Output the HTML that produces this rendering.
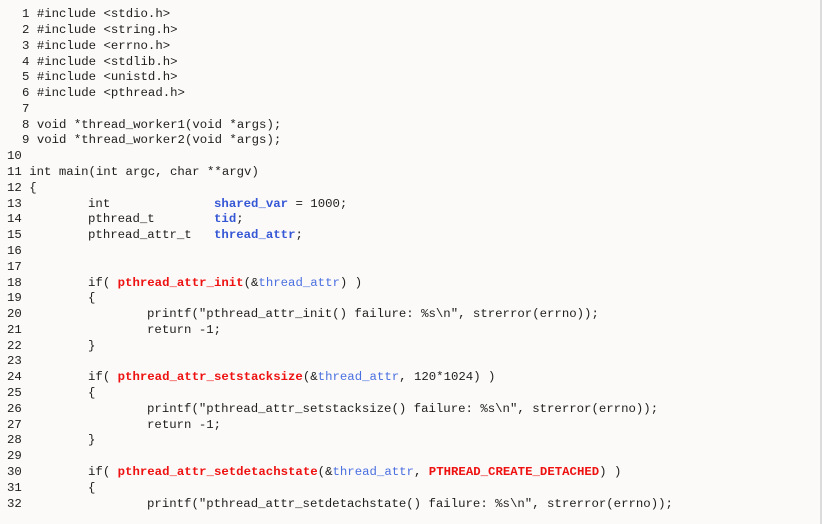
<!DOCTYPE html>
<html><head><meta charset="utf-8"><style>
html,body{margin:0;padding:0;}
body{width:824px;height:524px;background:#fff;position:relative;overflow:hidden;}
#bg{position:absolute;left:0;top:0;width:820px;height:524px;background:#fbfaf8;border-right:2px solid #dcdcdc;}
.l{position:absolute;font-family:"Liberation Mono",monospace;font-size:12.35px;line-height:16px;color:#1e1e1e;white-space:pre;}
.b{color:#3557d6;font-weight:bold;}
.v{color:#4a6fe0;}
.r{color:#ee1111;font-weight:bold;}
</style></head><body>
<div id="bg"></div>
<div class="l" style="left:22px;top:6px">1 #include &lt;stdio.h&gt;</div>
<div class="l" style="left:22px;top:22px">2 #include &lt;string.h&gt;</div>
<div class="l" style="left:22px;top:38px">3 #include &lt;errno.h&gt;</div>
<div class="l" style="left:22px;top:54px">4 #include &lt;stdlib.h&gt;</div>
<div class="l" style="left:22px;top:69px">5 #include &lt;unistd.h&gt;</div>
<div class="l" style="left:22px;top:85px">6 #include &lt;pthread.h&gt;</div>
<div class="l" style="left:22px;top:101px">7</div>
<div class="l" style="left:22px;top:117px">8 void *thread_worker1(void *args);</div>
<div class="l" style="left:22px;top:132px">9 void *thread_worker2(void *args);</div>
<div class="l" style="left:7px;top:148px">10</div>
<div class="l" style="left:7px;top:164px">11 int main(int argc, char **argv)</div>
<div class="l" style="left:7px;top:180px">12 {</div>
<div class="l" style="left:7px;top:196px">13</div><div class="l" style="left:88px;top:196px">int</div><div class="l" style="left:214px;top:196px"><span class="b">shared_var</span> = 1000;</div>
<div class="l" style="left:7px;top:211px">14</div><div class="l" style="left:88px;top:211px">pthread_t</div><div class="l" style="left:214px;top:211px"><span class="b">tid</span>;</div>
<div class="l" style="left:7px;top:227px">15</div><div class="l" style="left:88px;top:227px">pthread_attr_t</div><div class="l" style="left:214px;top:227px"><span class="b">thread_attr</span>;</div>
<div class="l" style="left:7px;top:243px">16</div>
<div class="l" style="left:7px;top:259px">17</div>
<div class="l" style="left:7px;top:275px">18</div><div class="l" style="left:88px;top:275px">if( <span class="r">pthread_attr_init</span>(&amp;<span class="v">thread_attr</span>) )</div>
<div class="l" style="left:7px;top:290px">19</div><div class="l" style="left:88px;top:290px">{</div>
<div class="l" style="left:7px;top:306px">20</div><div class="l" style="left:147px;top:306px">printf("pthread_attr_init() failure: %s\n", strerror(errno));</div>
<div class="l" style="left:7px;top:322px">21</div><div class="l" style="left:147px;top:322px">return -1;</div>
<div class="l" style="left:7px;top:338px">22</div><div class="l" style="left:88px;top:338px">}</div>
<div class="l" style="left:7px;top:353px">23</div>
<div class="l" style="left:7px;top:369px">24</div><div class="l" style="left:88px;top:369px">if( <span class="r">pthread_attr_setstacksize</span>(&amp;<span class="v">thread_attr</span>, 120*1024) )</div>
<div class="l" style="left:7px;top:385px">25</div><div class="l" style="left:88px;top:385px">{</div>
<div class="l" style="left:7px;top:401px">26</div><div class="l" style="left:147px;top:401px">printf("pthread_attr_setstacksize() failure: %s\n", strerror(errno));</div>
<div class="l" style="left:7px;top:417px">27</div><div class="l" style="left:147px;top:417px">return -1;</div>
<div class="l" style="left:7px;top:432px">28</div><div class="l" style="left:88px;top:432px">}</div>
<div class="l" style="left:7px;top:448px">29</div>
<div class="l" style="left:7px;top:464px">30</div><div class="l" style="left:88px;top:464px">if( <span class="r">pthread_attr_setdetachstate</span>(&amp;<span class="v">thread_attr</span>, <span class="r">PTHREAD_CREATE_DETACHED</span>) )</div>
<div class="l" style="left:7px;top:480px">31</div><div class="l" style="left:88px;top:480px">{</div>
<div class="l" style="left:7px;top:496px">32</div><div class="l" style="left:147px;top:496px">printf("pthread_attr_setdetachstate() failure: %s\n", strerror(errno));</div>
</body></html>
